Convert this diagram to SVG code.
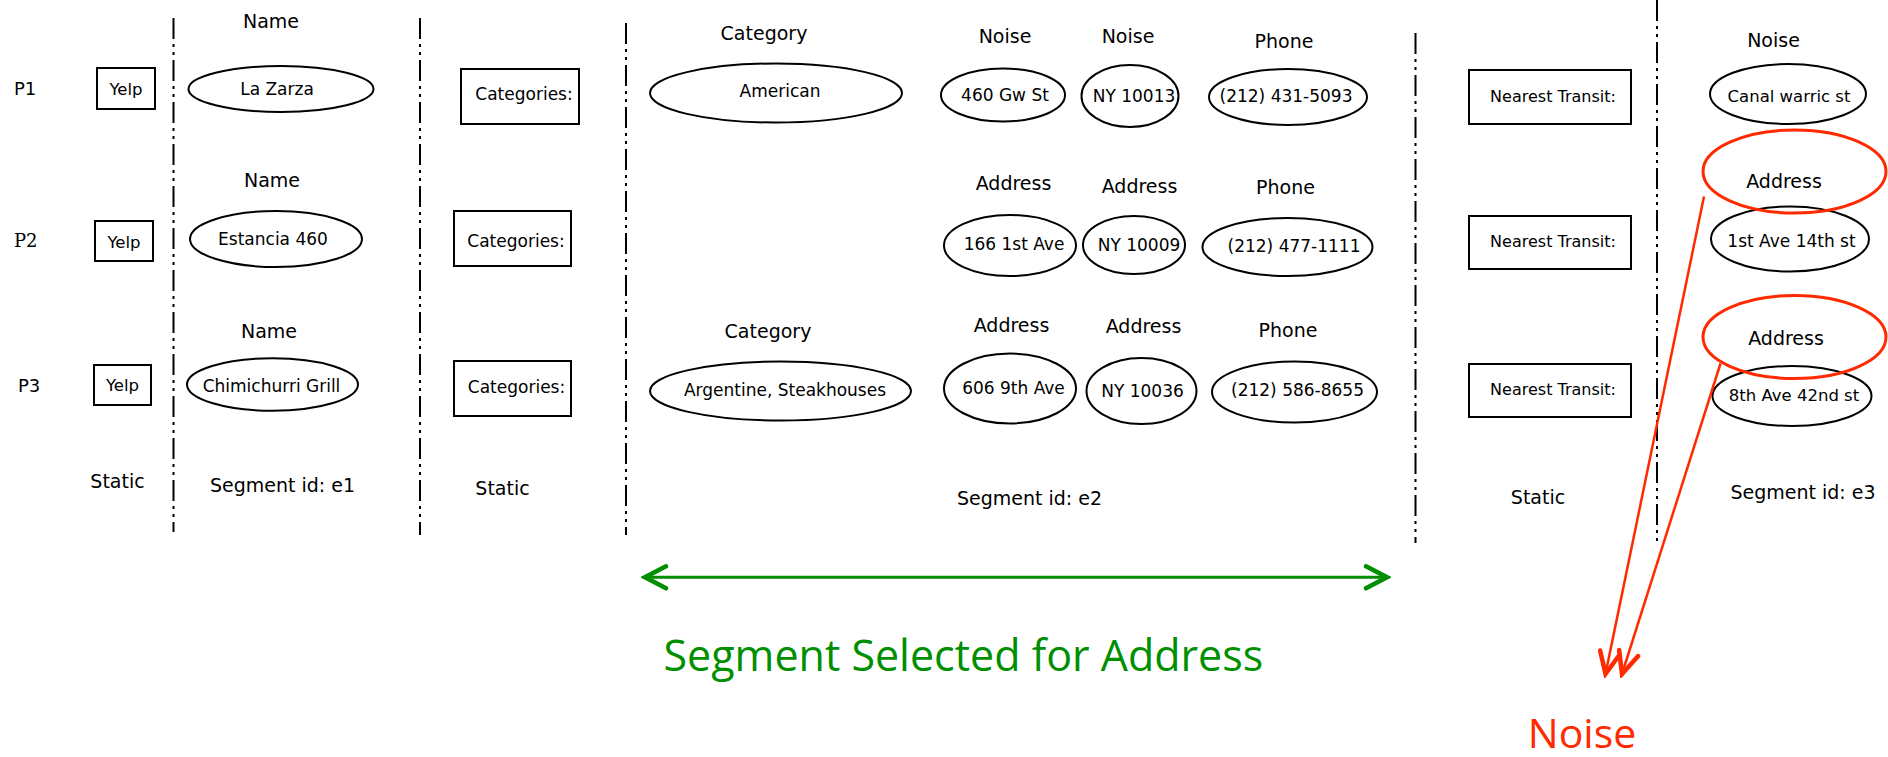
<svg xmlns="http://www.w3.org/2000/svg" width="1888" height="757" viewBox="0 0 1888 757">
<style>
text { font-family: "DejaVu Sans", "Liberation Sans", sans-serif; fill: #000; text-anchor: middle; }
.lbl { font-size: 19px; }
.et { font-size: 17px; }
.bt { font-size: 17px; }
.nt { font-size: 16px; }
.yt { font-size: 16.5px; }
.rt { font-size: 16.5px; }
.pid { font-size: 18px; text-anchor: start; }
.seg { font-size: 19px; }
.box { fill: none; stroke: #000; stroke-width: 2; }
.ell { fill: none; stroke: #000; stroke-width: 2; }
.red { fill: none; stroke: #ff2a00; stroke-width: 3; }
.div { stroke: #000; stroke-width: 2; stroke-dasharray: 21 5 3 5 3 5; fill: none; }
.garrow { stroke: #008f00; stroke-width: 3; fill: none; marker-start: url(#gh); marker-end: url(#gh); }
.rarrow { stroke: #ff2a00; stroke-width: 2.5; fill: none; marker-end: url(#rh); }
</style>
<defs>
<marker id="gh" markerUnits="userSpaceOnUse" viewBox="-28 -16 32 32" refX="0" refY="0" markerWidth="32" markerHeight="32" orient="auto-start-reverse">
<path d="M-21,-11 L0,0 L-21,11" fill="none" stroke="#008f00" stroke-width="4.5" stroke-linecap="round" stroke-linejoin="miter"/>
</marker>
<marker id="rh" markerUnits="userSpaceOnUse" viewBox="-28 -16 32 32" refX="0" refY="0" markerWidth="32" markerHeight="32" orient="auto">
<path d="M-22,-10 L0,0 L-22,10" fill="none" stroke="#ff2a00" stroke-width="4.5" stroke-linecap="round" stroke-linejoin="miter"/>
</marker>
</defs>
<rect width="1888" height="757" fill="#fff"/>

<g id="dividers">
<line class="div" x1="173.5" y1="18" x2="173.5" y2="532"/>
<line class="div" x1="420" y1="18" x2="420" y2="535"/>
<line class="div" x1="626" y1="23" x2="626" y2="535"/>
<line class="div" x1="1415.5" y1="33" x2="1415.5" y2="543"/>
<line class="div" x1="1657" y1="0" x2="1657" y2="542"/>
</g>

<g id="row-labels">
<text class="pid" x="14" y="95">P1</text>
<text class="pid" x="14" y="247" style="font-family:'DejaVu Serif',serif">P2</text>
<text class="pid" x="18" y="392">P3</text>
</g>

<g id="field-labels">
<text class="lbl" x="271" y="28">Name</text>
<text class="lbl" x="272" y="187">Name</text>
<text class="lbl" x="269" y="338">Name</text>
<text class="lbl" x="764" y="40">Category</text>
<text class="lbl" x="768" y="338">Category</text>
<text class="lbl" x="1005" y="43">Noise</text>
<text class="lbl" x="1128" y="43">Noise</text>
<text class="lbl" x="1284" y="48">Phone</text>
<text class="lbl" x="1013.5" y="190">Address</text>
<text class="lbl" x="1139.5" y="193">Address</text>
<text class="lbl" x="1285.5" y="194">Phone</text>
<text class="lbl" x="1011.5" y="332">Address</text>
<text class="lbl" x="1143.5" y="333">Address</text>
<text class="lbl" x="1288" y="337">Phone</text>
<text class="lbl" x="1773.5" y="46.5">Noise</text>
</g>

<g id="yelp1"><rect class="box" x="97" y="68" width="58" height="41"/><text class="yt" x="126" y="95">Yelp</text></g>
<g id="yelp2"><rect class="box" x="95" y="221" width="58" height="40"/><text class="yt" x="124" y="248">Yelp</text></g>
<g id="yelp3"><rect class="box" x="94" y="365" width="57" height="40"/><text class="yt" x="122.5" y="391">Yelp</text></g>

<g id="name1"><ellipse class="ell" cx="281" cy="89" rx="92.5" ry="23"/><text class="et" x="277" y="95">La Zarza</text></g>
<g id="name2"><ellipse class="ell" cx="276" cy="239" rx="86" ry="28"/><text class="et" x="273" y="245">Estancia 460</text></g>
<g id="name3"><ellipse class="ell" cx="272.5" cy="384.5" rx="85.5" ry="26.2"/><text class="et" x="271.5" y="392">Chimichurri Grill</text></g>

<g id="cat1"><rect class="box" x="461" y="69" width="118" height="55"/><text class="bt" x="524" y="100">Categories:</text></g>
<g id="cat2"><rect class="box" x="454" y="211" width="117" height="55"/><text class="bt" x="516" y="247">Categories:</text></g>
<g id="cat3"><rect class="box" x="454" y="361" width="117" height="55"/><text class="bt" x="516.5" y="393">Categories:</text></g>

<g id="catval1"><ellipse class="ell" cx="776" cy="93" rx="126" ry="29.5"/><text class="et" x="780" y="97">American</text></g>
<g id="catval3"><ellipse class="ell" cx="780.5" cy="391" rx="130.5" ry="29.5"/><text class="et" x="785" y="396">Argentine, Steakhouses</text></g>

<g id="addr1a"><ellipse class="ell" cx="1003" cy="95" rx="62" ry="26.5"/><text class="et" x="1005" y="100.5">460 Gw St</text></g>
<g id="addr1b"><ellipse class="ell" cx="1130" cy="96" rx="48.5" ry="31"/><text class="et" x="1134" y="101.5">NY 10013</text></g>
<g id="phone1"><ellipse class="ell" cx="1288" cy="97" rx="79" ry="28"/><text class="et" x="1286" y="101.5">(212) 431-5093</text></g>

<g id="addr2a"><ellipse class="ell" cx="1010" cy="245.5" rx="66" ry="30.5"/><text class="et" x="1014" y="250">166 1st Ave</text></g>
<g id="addr2b"><ellipse class="ell" cx="1134" cy="245" rx="51" ry="29"/><text class="et" x="1139" y="251">NY 10009</text></g>
<g id="phone2"><ellipse class="ell" cx="1287.5" cy="247" rx="85" ry="29"/><text class="et" x="1294" y="251.5">(212) 477-1111</text></g>

<g id="addr3a"><ellipse class="ell" cx="1010" cy="388.5" rx="66" ry="35"/><text class="et" x="1013.5" y="393.5">606 9th Ave</text></g>
<g id="addr3b"><ellipse class="ell" cx="1141.5" cy="391" rx="55" ry="33"/><text class="et" x="1142.5" y="396.5">NY 10036</text></g>
<g id="phone3"><ellipse class="ell" cx="1294.5" cy="392" rx="82.5" ry="30.5"/><text class="et" x="1297.5" y="396">(212) 586-8655</text></g>

<g id="transit1"><rect class="box" x="1469" y="70" width="162" height="54"/><text class="nt" x="1553" y="101.5">Nearest Transit:</text></g>
<g id="transit2"><rect class="box" x="1469" y="216" width="162" height="53"/><text class="nt" x="1553" y="247">Nearest Transit:</text></g>
<g id="transit3"><rect class="box" x="1469" y="364" width="162" height="53"/><text class="nt" x="1553" y="395">Nearest Transit:</text></g>

<g id="tval1"><ellipse class="ell" cx="1788" cy="94" rx="78" ry="30"/><text class="rt" x="1789" y="101.5">Canal warric st</text></g>
<g id="tval2"><ellipse class="ell" cx="1790" cy="239" rx="79" ry="32.5"/><text class="rt" style="font-size:17px" x="1791.5" y="246.5">1st Ave 14th st</text></g>
<g id="tval3"><ellipse class="ell" cx="1792" cy="396" rx="79.5" ry="30"/><text class="rt" x="1794" y="400.5">8th Ave 42nd st</text></g>

<g id="redaddr1"><ellipse class="red" cx="1794.5" cy="171.5" rx="91.5" ry="41.5"/><text class="lbl" x="1784" y="188">Address</text></g>
<g id="redaddr2"><ellipse class="red" cx="1794.5" cy="337" rx="91.5" ry="41.5"/><text class="lbl" x="1786" y="345">Address</text></g>

<g id="footer">
<text class="lbl" x="117.5" y="488">Static</text>
<text class="seg" x="282.5" y="492">Segment id: e1</text>
<text class="lbl" x="502.5" y="495">Static</text>
<text class="seg" x="1029.5" y="505">Segment id: e2</text>
<text class="lbl" x="1538" y="504">Static</text>
<text class="seg" x="1803" y="499">Segment id: e3</text>
</g>

<g id="connectors">
<line class="garrow" x1="645" y1="577.3" x2="1387" y2="577.3"/>
<line class="rarrow" x1="1704" y1="196.5" x2="1605.5" y2="674"/>
<line class="rarrow" x1="1720.5" y1="363.5" x2="1622" y2="674"/>
</g>

<g id="annotations">
<text x="663.5" y="671" style="font-family:'Open Sans','Noto Sans',sans-serif;font-size:43px;fill:#008f00;text-anchor:start">Segment Selected for Address</text>
<text x="1582" y="748" style="font-family:'Open Sans','Noto Sans',sans-serif;font-size:41px;fill:#ff2a00">Noise</text>
</g>
</svg>
